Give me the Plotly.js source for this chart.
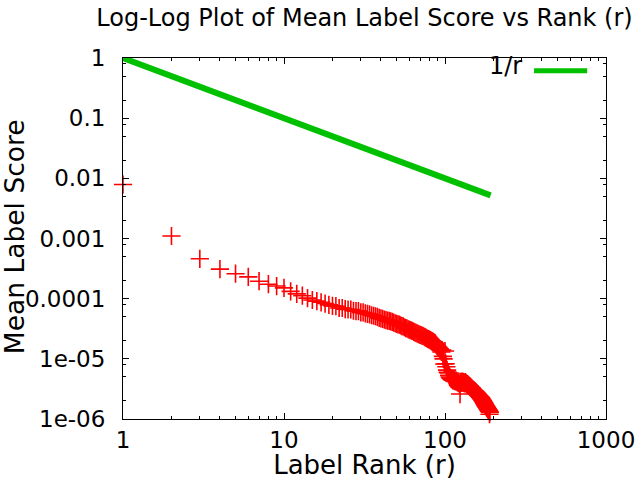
<!DOCTYPE html>
<html>
<head>
<meta charset="utf-8">
<script src="https://cdn.plot.ly/plotly-3.0.1.min.js"></script>
<style>html,body{margin:0;padding:0;background:#fff;}#chart{width:640px;height:480px;}</style>
</head>
<body>
<div id="chart"></div>
<script>
// Mean label score for each rank r = 1, 2, 3, ...
const meanScores = [
  7.9e-3, 1.1e-3, 4.6e-4, 3.1e-4, 2.6e-4, 2.3e-4, 1.95e-4, 1.74e-4, 1.62e-4, 1.51e-4,
  1.32e-4, 1.20e-4, 1.12e-4, 1.02e-4, 9.5e-5, 9.1e-5, 8.7e-5, 8.3e-5, 7.9e-5, 7.6e-5,
  7.5e-5, 7.0e-5, 7.0e-5, 6.7e-5, 6.6e-5, 6.6e-5, 6.3e-5, 6.2e-5, 6.2e-5, 5.9e-5,
  5.9e-5, 5.7e-5, 5.6e-5, 5.5e-5, 5.3e-5, 5.2e-5, 5.1e-5, 5.0e-5, 4.8e-5, 4.7e-5,
  4.6e-5, 4.5e-5, 4.4e-5, 4.3e-5, 4.27e-5, 4.2e-5, 4.1e-5, 4.0e-5, 3.9e-5, 3.8e-5,
  3.75e-5, 3.7e-5, 3.6e-5, 3.5e-5, 3.45e-5, 3.35e-5, 3.25e-5, 3.2e-5, 3.1e-5, 3.05e-5,
  3.0e-5, 2.95e-5, 2.9e-5, 2.8e-5, 2.75e-5, 2.7e-5, 2.65e-5, 2.6e-5, 2.55e-5, 2.5e-5,
  2.48e-5, 2.42e-5, 2.4e-5, 2.35e-5, 2.3e-5, 2.25e-5, 2.2e-5, 2.15e-5, 2.12e-5, 2.08e-5,
  2.05e-5, 2.0e-5, 1.97e-5, 1.93e-5, 1.9e-5, 1.85e-5, 1.8e-5, 1.72e-5, 1.66e-5, 1.6e-5,
  1.55e-5, 1.5e-5, 1.45e-5, 1.38e-5, 1.3e-5, 1.4e-5, 1.1e-5, 1.0e-5, 8.2e-6, 1.35e-5,
  8.3e-6, 7.4e-6, 6.5e-6, 6.0e-6, 5.8e-6, 5.3e-6, 5.0e-6, 4.8e-6, 4.7e-6, 4.6e-6,
  4.5e-6, 4.4e-6, 4.5e-6, 4.3e-6, 4.4e-6, 4.2e-6, 4.3e-6, 4.2e-6, 4.1e-6, 4.2e-6,
  4.0e-6, 4.2e-6, 3.8e-6, 2.6e-6, 4.1e-6, 4.2e-6, 4.0e-6, 4.1e-6, 4.2e-6, 4.0e-6,
  4.1e-6, 3.9e-6, 4.0e-6, 4.1e-6, 3.9e-6, 3.9e-6, 3.8e-6, 3.8e-6, 3.7e-6, 3.6e-6,
  3.6e-6, 3.5e-6, 3.5e-6, 3.4e-6, 3.3e-6, 3.3e-6, 3.2e-6, 3.1e-6, 3.1e-6, 3.0e-6,
  3.0e-6, 2.95e-6, 2.9e-6, 2.85e-6, 2.8e-6, 2.75e-6, 2.7e-6, 2.65e-6, 2.6e-6, 2.55e-6,
  2.5e-6, 2.45e-6, 2.4e-6, 2.38e-6, 2.34e-6, 2.3e-6, 2.25e-6, 2.2e-6, 2.15e-6, 2.1e-6,
  2.05e-6, 2.0e-6, 1.95e-6, 1.9e-6, 1.85e-6, 1.8e-6, 1.75e-6, 1.7e-6, 1.66e-6, 1.62e-6,
  1.58e-6, 1.55e-6, 1.52e-6, 1.48e-6, 1.45e-6, 1.42e-6, 1.38e-6, 1.35e-6, 1.2e-6, 1.3e-6
];
const ranks = meanScores.map((_, i) => i + 1);

// Reference line 1/r, drawn between its two end points
const refRanks = [1, 192];
const refValues = [1, 0.00521];

const xTickVals = [1, 10, 100, 1000];
const xTickText = ['1', '10', '100', '1000'];
const yTickVals = [1, 0.1, 0.01, 0.001, 0.0001, 1e-5, 1e-6];
const yTickText = ['1', '0.1', '0.01', '0.001', '0.0001', '1e-05', '1e-06'];
const xMinorVals = [2,3,4,5,6,7,8,9,20,30,40,50,60,70,80,90,200,300,400,500,600,700,800,900];
const yMinorVals = [2e-6,5e-6,8e-6,2e-5,5e-5,8e-5,2e-4,5e-4,8e-4,2e-3,5e-3,8e-3,2e-2,5e-2,8e-2,0.2,0.5,0.8];

const FONT = 'DejaVu Sans';

const traces = [
  {
    x: refRanks, y: refValues, type: 'scatter', mode: 'lines', name: '1/r',
    line: {color: '#00c000', width: 6}, showlegend: false
  },
  {
    x: ranks, y: meanScores, type: 'scatter', mode: 'markers', name: 'mean score',
    marker: {symbol: 'cross-thin-open', size: 13, color: '#ff0000', line: {color: '#ff0000', width: 1.6}},
    cliponaxis: false, showlegend: false
  }
];

const axisCommon = {
  type: 'log', showgrid: false, zeroline: false,
  showline: true, linecolor: '#000', linewidth: 1, mirror: 'ticks',
  ticks: 'inside', ticklen: 6, tickwidth: 1, tickcolor: '#000',
  tickmode: 'array',
  tickfont: {family: FONT, size: 23, color: '#000'},
};

const layout = {
  width: 640, height: 480,
  margin: {l: 123, r: 34, t: 58, b: 61},
  paper_bgcolor: '#fff', plot_bgcolor: '#fff',
  font: {family: FONT, color: '#000'},
  title: {
    text: 'Log-Log Plot of Mean Label Score vs Rank (r)',
    font: {family: FONT, size: 24, color: '#000'},
    x: 0.5, xref: 'paper', y: 1 - 9/480, yref: 'container', yanchor: 'top'
  },
  xaxis: Object.assign({}, axisCommon, {
    range: [0, 3], tickvals: xTickVals, ticktext: xTickText,
    minor: {tickmode: 'array', tickvals: xMinorVals, ticks: 'inside', ticklen: 3, tickcolor: '#000', tickwidth: 1},
    title: {text: 'Label Rank (r)', font: {family: FONT, size: 26, color: '#000'}, standoff: 0},
    automargin: false
  }),
  yaxis: Object.assign({}, axisCommon, {
    range: [-6, 0], tickvals: yTickVals, ticktext: yTickText,
    ticklabelstandoff: 12,
    minor: {tickmode: 'array', tickvals: yMinorVals, ticks: 'inside', ticklen: 3, tickcolor: '#000', tickwidth: 1},
    automargin: false
  }),
  annotations: [
    {
      text: 'Mean Label Score', textangle: -90, xref: 'paper', yref: 'paper',
      x: -0.2255, y: 0.504, xanchor: 'center', yanchor: 'middle', showarrow: false,
      font: {family: FONT, size: 26.5, color: '#000'}
    },
    {
      text: '1/r', xref: 'paper', yref: 'paper', x: 0.83, y: 0.977,
      xanchor: 'right', yanchor: 'middle', showarrow: false,
      font: {family: FONT, size: 24, color: '#000'}
    }
  ],
  shapes: [{
    type: 'line', xref: 'paper', yref: 'paper', x0: 0.851, x1: 0.961, y0: 0.965, y1: 0.965,
    line: {color: '#00c000', width: 5}
  }]
};

Plotly.newPlot('chart', traces, layout, {displayModeBar: false, staticPlot: true});
</script>
</body>
</html>
